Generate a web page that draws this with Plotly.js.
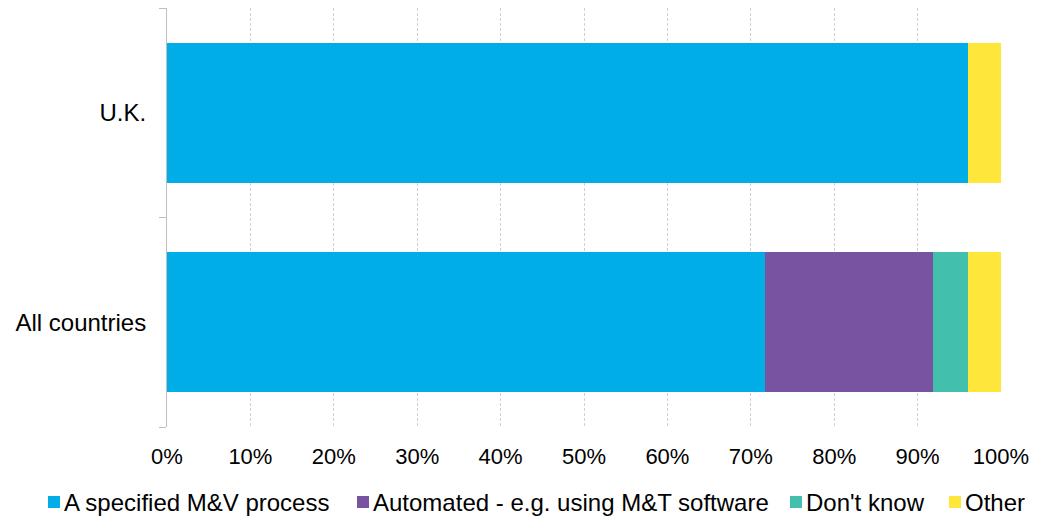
<!DOCTYPE html>
<html>
<head>
<meta charset="utf-8">
<script src="https://cdn.plot.ly/plotly-3.0.1.min.js"></script>
<style>
  html, body { margin: 0; padding: 0; background: #ffffff; }
  #chart { width: 1049px; height: 517px; }
</style>
</head>
<body>
<div id="chart"></div>
<script>
// Verification method, share of respondents (stacked to 100%)
const regions = ["All countries", "U.K."];
const seriesNames = ["A specified M&V process", "Automated - e.g. using M&T software", "Don't know", "Other"];
const specifiedMV = [71.7, 96.0];
const automated = [20.2, 0];
const dontKnow = [4.1, 0];
const other = [4.0, 4.0];
const seriesColors = ["#00ADE6", "#7753A2", "#43BFAE", "#FFE63B"];
const xTicks = [0, 10, 20, 30, 40, 50, 60, 70, 80, 90, 100];

const seriesValues = [specifiedMV, automated, dontKnow, other];

const traces = seriesValues.map((vals, i) => ({
  type: "bar",
  orientation: "h",
  name: seriesNames[i],
  y: regions,
  x: vals,
  marker: { color: seriesColors[i], line: { width: 0 } },
  hoverinfo: "name+x"
}));

// Plot area geometry in pixels, used to lay out the single-row legend below the axis
const W = 1049, H = 517;
const M = { l: 167, r: 48, t: 8, b: 90 };
const plotW = W - M.l - M.r;
const plotH = H - M.t - M.b;
const px2x = px => (px - M.l) / plotW;
const py2y = py => (H - M.b - py) / plotH;

// Legend entries: square swatch followed by its label
const legendSwatchLeft = [48, 357, 790, 949];
const legendRowY = 502;
const swatch = 12;

const legendShapes = seriesNames.map((n, i) => ({
  type: "rect",
  xref: "paper", yref: "paper",
  x0: px2x(legendSwatchLeft[i]), x1: px2x(legendSwatchLeft[i] + swatch),
  y0: py2y(legendRowY - swatch / 2), y1: py2y(legendRowY + swatch / 2),
  fillcolor: seriesColors[i],
  line: { width: 0 }
}));

const legendLabels = seriesNames.map((n, i) => ({
  xref: "paper", yref: "paper",
  x: px2x(legendSwatchLeft[i] + swatch + 3),
  y: py2y(legendRowY),
  xanchor: "left", yanchor: "middle",
  text: n,
  showarrow: false,
  borderpad: 0,
  font: { size: 24, color: "#000000" }
}));

const layout = {
  width: W,
  height: H,
  barmode: "stack",
  bargap: 0.33,
  paper_bgcolor: "#ffffff",
  plot_bgcolor: "#ffffff",
  font: { family: "Liberation Sans, Arial, sans-serif", size: 22, color: "#000000" },
  margin: M,
  showlegend: false,
  shapes: legendShapes,
  annotations: legendLabels,
  xaxis: {
    range: [0, 100],
    tickvals: xTicks,
    ticktext: xTicks.map(v => v + "%"),
    tickfont: { size: 22 },
    showgrid: true,
    gridcolor: "#d0d0d0",
    gridwidth: 1,
    griddash: "3px,2px",
    zeroline: false,
    showline: false,
    ticks: "",
    ticklabelstandoff: 14,
    fixedrange: true
  },
  yaxis: {
    type: "category",
    categoryorder: "array",
    categoryarray: regions,
    tickson: "boundaries",
    ticks: "outside",
    ticklen: 7,
    tickcolor: "#bfbfbf",
    tickwidth: 1,
    tickfont: { size: 24 },
    showline: true,
    linecolor: "#bfbfbf",
    linewidth: 1,
    showgrid: false,
    zeroline: false,
    ticklabelstandoff: 15,
    fixedrange: true
  }
};

Plotly.newPlot("chart", traces, layout, { displayModeBar: false, staticPlot: true });
</script>
</body>
</html>
